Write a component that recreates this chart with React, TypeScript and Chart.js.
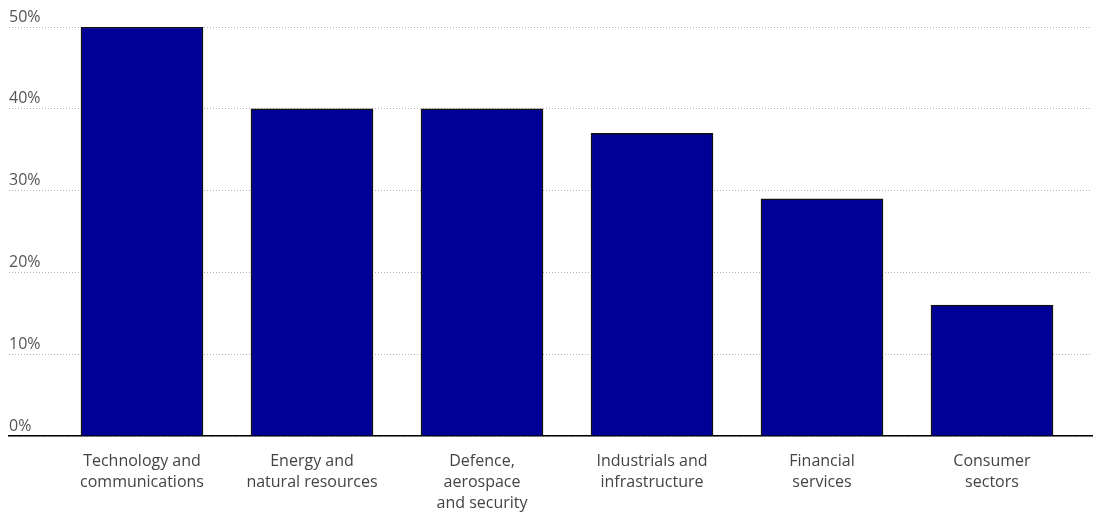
import React, { useEffect, useRef } from "react";
import { Chart, registerables } from "chart.js";

Chart.register(...registerables);

const categories: string[][] = [
  ["Technology and", "communications"],
  ["Energy and", "natural resources"],
  ["Defence,", "aerospace", "and security"],
  ["Industrials and", "infrastructure"],
  ["Financial", "services"],
  ["Consumer", "sectors"],
];
const values: number[] = [50, 40, 40, 37, 29, 16];
const yTicks: number[] = [0, 10, 20, 30, 40, 50];

export default function App() {
  const ref = useRef<HTMLCanvasElement | null>(null);
  useEffect(() => {
    if (!ref.current) return;
    const chart = new Chart(ref.current, {
      type: "bar",
      data: {
        datasets: [
          {
            data: values.map((v, i) => ({ x: i, y: v })),
            backgroundColor: "#000096",
            borderColor: "#111",
            borderWidth: 1.5,
            barThickness: 122,
          },
        ],
      },
      options: {
        animation: false,
        responsive: true,
        maintainAspectRatio: false,
        layout: { padding: { left: 9, right: 6, top: 27, bottom: 0 } },
        plugins: { legend: { display: false }, tooltip: { enabled: false } },
        scales: {
          x: {
            type: "linear",
            offset: false,
            min: -(142 - 9) / 170,
            max: 5 + (1092 - 992) / 170,
            grid: { color: "rgba(0,0,0,0)", drawTicks: false, offset: false },
            border: { display: true, color: "#000", width: 1.5 },
            afterFit: (s: any) => {
              s.height = 80;
            },
            ticks: {
              stepSize: 1,
              includeBounds: false,
              autoSkip: false,
              maxRotation: 0,
              padding: 15,
              color: "#444",
              font: { family: "'Open Sans', sans-serif", size: 16, lineHeight: 1.3 },
              callback: (v: any) => {
                const i = Number(v);
                return Number.isInteger(i) && categories[i] ? categories[i] : "";
              },
            },
          },
          y: {
            min: yTicks[0],
            max: yTicks[yTicks.length - 1],
            grid: { color: "#b5b5b5", lineWidth: 1, drawTicks: false },
            border: { display: false, dash: [1, 2] },
            afterFit: (s: any) => {
              s.width = 0;
            },
            ticks: {
              stepSize: 10,
              mirror: true,
              padding: 0,
              labelOffset: -10,
              color: "#555",
              font: { family: "'Open Sans', sans-serif", size: 16 },
              callback: (v: any) => v + "%",
            },
          },
        },
      },
    });
    return () => chart.destroy();
  }, []);
  return (
    <div style={{ position: "absolute", left: 0, top: 0, width: 1098, height: 516 }}>
      <canvas ref={ref} />
    </div>
  );
}
